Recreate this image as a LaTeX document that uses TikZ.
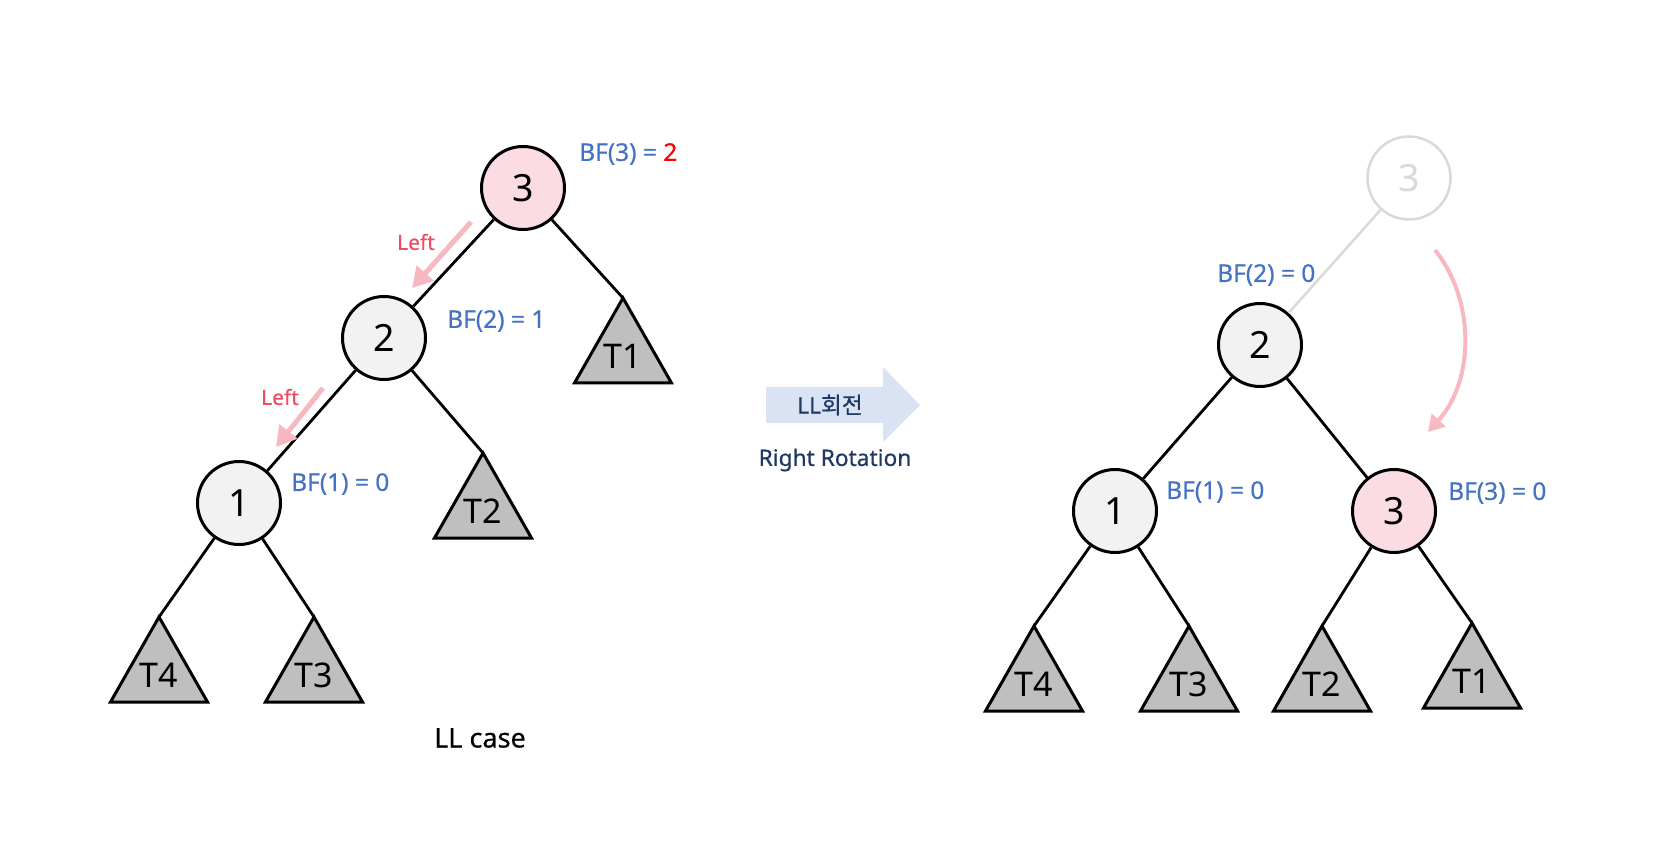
\documentclass[tikz,border=0pt]{standalone}
\usepackage{fontspec}
\setmainfont{Noto Sans}
\newfontfamily\medfont{Noto Sans}[FakeBold=0.5]
\newfontfamily\krfont{Noto Sans CJK KR}[FakeBold=0.5]
\usetikzlibrary{arrows.meta}
\definecolor{nodegray}{HTML}{F2F2F2}
\definecolor{nodepink}{HTML}{FADCE2}
\definecolor{treegray}{HTML}{BFBFBF}
\definecolor{bfblue}{HTML}{4472C4}
\definecolor{bfred}{HTML}{FF0000}
\definecolor{leftred}{HTML}{EE4D63}
\definecolor{arrowpink}{HTML}{F7B8C1}
\definecolor{blockblue}{HTML}{DAE3F3}
\definecolor{navy}{HTML}{1F3864}
\definecolor{ghost}{HTML}{D9D9D9}
\newcommand\mksubtree[4]{%
  \draw[subtree] (#2,#3) -- ++(-48.5,85) -- ++(97,0) -- cycle;
  \coordinate (#1) at (#2,#3);
  \node[tlabel] (#1l) at (#2,#3+58) {#4};}
\begin{document}
\begin{tikzpicture}[x=1pt,y=-1pt,
  treenode/.style={circle, draw=black, line width=3pt, minimum size=83pt, inner sep=0pt, font=\fontsize{37.5}{40}\selectfont},
  graynode/.style={treenode, fill=nodegray},
  pinknode/.style={treenode, fill=nodepink},
  ghostnode/.style={treenode, draw=ghost, line width=2.5pt, text=ghost},
  edge/.style={line width=2.8pt, draw=black},
  ghostedge/.style={line width=2.5pt, draw=ghost},
  subtree/.style={draw=black, line width=3pt, fill=treegray, line join=miter},
  tlabel/.style={font=\fontsize{34}{36}\selectfont, inner sep=0pt},
  bflabel/.style={font=\medfont\fontsize{24.5}{26}\selectfont, text=bfblue, inner sep=0pt, anchor=west},
  leftlbl/.style={font=\medfont\fontsize{21}{24}\selectfont, text=leftred, inner sep=0pt},
  pinkarrow/.style={line width=5pt, draw=arrowpink, -{Triangle[length=20pt,width=22pt]}},
  rotarrow/.style={line width=4pt, draw=arrowpink, -{Triangle[length=16pt,width=18pt]}},
  captxt/.style={font=\medfont\fontsize{27}{30}\selectfont, inner sep=0pt},
  navytxt/.style={font=\medfont\fontsize{22.7}{26}\selectfont, text=navy, inner sep=0pt}
]
\useasboundingbox (0,0) rectangle (1660,858);
\fill[white] (0,0) rectangle (1660,858);

% ---------- left tree ----------
\node[pinknode] (a3) at (523,188) {3};
\node[graynode] (a2) at (384,338) {2};
\node[graynode] (a1) at (239,503) {1};
\mksubtree{aT1}{623}{298}{T1}
\mksubtree{aT2}{483}{453}{T2}
\mksubtree{aT4}{159}{617}{T4}
\mksubtree{aT3}{314}{617}{T3}
\draw[edge] (a3) -- (a2);
\draw[edge] (a3) -- (aT1);
\draw[edge] (a2) -- (a1);
\draw[edge] (a2) -- (aT2);
\draw[edge] (a1) -- (aT4);
\draw[edge] (a1) -- (aT3);

\node[bflabel] (bfa3) at (579,154) {BF(3) = \textcolor{bfred}{2}};
\node[bflabel] (bfa2) at (447,321) {BF(2) = 1};
\node[bflabel] (bfa1) at (291,484) {BF(1) = 0};

\node[leftlbl] (lft1) at (416,242) {Left};
\node[leftlbl] (lft2) at (280,397) {Left};
\coordinate (p1s) at (471,222);
\coordinate (p1e) at (412,288);
\coordinate (p2s) at (323,388);
\coordinate (p2e) at (276,447);
\draw[pinkarrow] (p1s) -- (p1e);
\draw[pinkarrow] (p2s) -- (p2e);

\node[captxt] (llcase) at (480,738) {LL case};

% ---------- block arrow ----------
\fill[blockblue] (766,387) -- (883,387) -- (883,367) -- (920,405) -- (883,442) -- (883,423) -- (766,423) -- cycle;
\node[navytxt] (llrot) at (830,405) {LL{\krfont 회전}};
\node[navytxt] (rrot) at (835,460) {Right Rotation};

% ---------- right tree ----------
\node[ghostnode] (g3) at (1409,178) {3};
\node[graynode] (b2) at (1260,345) {2};
\node[graynode] (b1) at (1115,511) {1};
\node[pinknode] (b3) at (1394,511) {3};
\mksubtree{bT4}{1034}{626}{T4}
\mksubtree{bT3}{1189}{626}{T3}
\mksubtree{bT2}{1322}{626}{T2}
\mksubtree{bT1}{1472}{623}{T1}
\draw[ghostedge] (g3) -- (b2);
\draw[edge] (b2) -- (b1);
\draw[edge] (b2) -- (b3);
\draw[edge] (b1) -- (bT4);
\draw[edge] (b1) -- (bT3);
\draw[edge] (b3) -- (bT2);
\draw[edge] (b3) -- (bT1);

\node[bflabel] (bfb2) at (1217,275) {BF(2) = 0};
\node[bflabel] (bfb1) at (1166,492) {BF(1) = 0};
\node[bflabel] (bfb3) at (1448,493) {BF(3) = 0};

\coordinate (rs) at (1435,250);
\coordinate (re) at (1428,432);
\draw[rotarrow] (rs) .. controls (1475,300) and (1475,380) .. (re);
\end{tikzpicture}
\end{document}
